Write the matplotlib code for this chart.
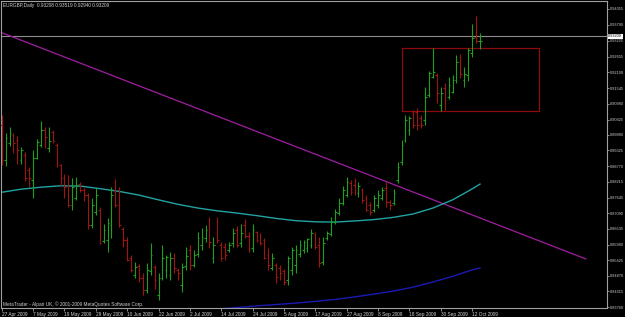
import numpy as np
import pandas as pd
import matplotlib
matplotlib.use('Agg')
import matplotlib.pyplot as plt

plt.rcParams['font.family'] = ['Liberation Sans', 'DejaVu Sans']

# EURGBP daily bars, 27 Apr 2009 .. 14 Oct 2009
dates = pd.bdate_range('2009-04-27', periods=123)

opens = [
    .9023, .8899, .8959, .8988, .8970, .8899, .8917, .8863, .8828, .8906,
    .8952, .9005, .8941, .8998, .8952, .8881, .8835, .8810, .8739, .8764,
    .8813, .8792, .8774, .8668, .8714, .8721, .8611, .8614, .8668, .8792,
    .8739, .8653, .8614, .8550, .8490, .8522, .8479, .8437, .8504, .8518,
    .8419, .8479, .8508, .8490, .8550, .8508, .8454, .8522, .8579, .8525,
    .8565, .8597, .8622, .8668, .8550, .8678, .8597, .8589, .8579, .8604,
    .8650, .8604, .8668, .8629, .8586, .8643, .8629, .8614, .8561, .8515,
    .8525, .8515, .8504, .8472, .8508, .8525, .8565, .8579, .8586, .8597,
    .8636, .8597, .8536, .8622, .8636, .8678, .8710, .8746, .8774, .8817,
    .8810, .8781, .8792, .8764, .8739, .8721, .8739, .8764, .8799, .8749,
    .8746, .8828, .8892, .8970, .9005, .9069, .9069, .9048, .9041, .9130,
    .9194, .9201, .9094, .9155, .9123, .9141, .9183, .9247, .9183, .9201,
    .9279, .9335, .93208,
]
highs = [
    .9059, .8995, .9016, .8995, .8984, .8945, .8927, .8874, .8934, .8973,
    .9037, .9016, .9016, .9005, .8959, .8885, .8849, .8845, .8835, .8838,
    .8821, .8799, .8781, .8764, .8799, .8732, .8671, .8693, .8803, .8831,
    .8803, .8661, .8625, .8561, .8536, .8529, .8497, .8533, .8604, .8525,
    .8497, .8597, .8561, .8572, .8568, .8515, .8533, .8589, .8597, .8579,
    .8643, .8657, .8668, .8696, .8625, .8696, .8607, .8604, .8607, .8657,
    .8664, .8671, .8689, .8643, .8671, .8646, .8639, .8622, .8586, .8568,
    .8533, .8525, .8511, .8557, .8589, .8597, .8614, .8614, .8622, .8653,
    .8643, .8625, .8625, .8646, .8696, .8725, .8764, .8806, .8838, .8828,
    .8835, .8821, .8799, .8774, .8749, .8774, .8792, .8803, .8821, .8757,
    .8796, .8892, .8970, .9059, .9055, .9077, .9084, .9059, .9158, .9215,
    .9297, .9208, .9158, .9172, .9194, .9201, .9272, .9276, .9229, .9297,
    .9382, .9411, .93519,
]
lows = [
    .8881, .8877, .8948, .8924, .8885, .8885, .8824, .8803, .8764, .8902,
    .8945, .8941, .8927, .8959, .8874, .8806, .8764, .8732, .8721, .8757,
    .8785, .8753, .8653, .8657, .8703, .8600, .8604, .8572, .8622, .8732,
    .8661, .8589, .8540, .8501, .8479, .8465, .8419, .8426, .8490, .8440,
    .8401, .8472, .8479, .8472, .8497, .8472, .8430, .8508, .8508, .8518,
    .8554, .8579, .8607, .8586, .8533, .8604, .8540, .8543, .8572, .8589,
    .8589, .8589, .8622, .8572, .8572, .8607, .8597, .8547, .8508, .8508,
    .8461, .8472, .8454, .8454, .8490, .8497, .8554, .8568, .8572, .8586,
    .8582, .8518, .8525, .8614, .8629, .8671, .8703, .8739, .8767, .8774,
    .8774, .8767, .8746, .8717, .8703, .8714, .8728, .8757, .8732, .8721,
    .8739, .8817, .8881, .8963, .8988, .9013, .9005, .9013, .9023, .9123,
    .9190, .9101, .9073, .9077, .9116, .9137, .9172, .9190, .9158, .9180,
    .9265, .9315, .92940,
]
closes = [
    .8899, .8977, .8995, .8959, .8934, .8934, .8835, .8835, .8906, .8963,
    .9005, .8981, .8966, .8966, .8888, .8835, .8803, .8739, .8803, .8810,
    .8792, .8774, .8668, .8739, .8774, .8604, .8650, .8675, .8774, .8739,
    .8668, .8614, .8543, .8508, .8518, .8479, .8437, .8508, .8561, .8472,
    .8479, .8550, .8554, .8550, .8515, .8497, .8518, .8557, .8525, .8561,
    .8622, .8625, .8650, .8607, .8597, .8614, .8550, .8561, .8597, .8639,
    .8597, .8639, .8629, .8582, .8650, .8614, .8604, .8550, .8525, .8550,
    .8483, .8497, .8465, .8550, .8579, .8579, .8597, .8607, .8618, .8639,
    .8589, .8533, .8604, .8639, .8678, .8714, .8746, .8792, .8821, .8785,
    .8792, .8806, .8757, .8721, .8714, .8764, .8774, .8792, .8749, .8739,
    .8781, .8874, .8952, .9041, .9048, .9023, .9023, .9023, .9123, .9208,
    .9212, .9137, .9137, .9112, .9165, .9183, .9247, .9204, .9204, .9290,
    .9333, .9322, .93209,
]

# moving averages, read every 5 bars
ma_fast_idx = [0, 5, 10, 15, 20, 25, 30, 35, 40, 45, 50, 55, 60, 65, 70, 75,
               80, 85, 90, 95, 100, 105, 110, 115, 120, 122]
ma_fast = [.8784, .8795, .8802, .8807, .8806, .8797, .8787, .8774, .8757, .8741,
           .8728, .8718, .8710, .8701, .8691, .8683, .8679, .8678, .8682, .8687,
           .8695, .8707, .8728, .8757, .8796, .8813]
ma_slow_idx = [55, 60, 65, 70, 75, 80, 85, 90, 95, 100, 105, 110, 115, 120, 122]
ma_slow = [.8369, .8374, .8380, .8385, .8390, .8396, .8403, .8412, .8422, .8433,
           .8447, .8465, .8485, .8508, .8515]

# drawn objects
trend_idx = [-0.5, 149]
trend_px = [.9354, .8547]
rect_idx = [102, 137]
rect_px = [.9074, .9296]
bid_level = .9339

ytick_vals = [.94355, .93790, .93225, .92655, .92100, .91545, .90980, .90425,
              .89880, .89325, .88770, .88215, .87645, .87090, .86535, .85980,
              .85425, .84870, .84315, .83760]

title = 'EURGBP,Daily  0.93208 0.93519 0.92940 0.93209'
copyright_txt = 'MetaTrader - Alpari UK, \u00a9 2001-2009 MetaQuotes Software Corp.'

UP = '#1ea01e'
DOWN = '#a01414'
FRAME = '#a0a0a0'
TXT = '#d0d0d0'
FS = 3.4
FS_Y = 2.8

fig = plt.figure(figsize=(6.25, 3.17), dpi=100, facecolor='black')
ax = fig.add_axes([1 / 625, 9 / 317, 606 / 625, 307 / 317])
ax.set_facecolor('black')

idx = np.arange(len(opens))
o = np.array(opens)
c = np.array(closes)
cols = [UP if cc >= oo else DOWN for oo, cc in zip(o, c)]

ax.axhline(bid_level, color='#8c8c8c', lw=0.8, zorder=1)
ax.plot(trend_idx, trend_px, color='#a01ea0', lw=0.9, zorder=2)
ax.plot(ma_fast_idx, ma_fast, color='#22a3a3', lw=1.0, zorder=2)
ax.plot(ma_slow_idx, ma_slow, color='#1a1ab4', lw=1.0, zorder=2)
ax.add_patch(plt.Rectangle((rect_idx[0], rect_px[0]), rect_idx[1] - rect_idx[0],
                           rect_px[1] - rect_px[0], fill=False,
                           edgecolor='#8c0a0a', lw=0.9, zorder=2))

ax.vlines(idx, lows, highs, colors=cols, lw=0.8, zorder=3)
ax.hlines(o, idx - 0.45, idx, colors=cols, lw=0.8, zorder=3)
ax.hlines(c, idx, idx + 0.45, colors=cols, lw=0.8, zorder=3)

ax.set_xlim(-0.18, 154.4)
ax.set_ylim(0.83726, 0.94639)

for s in ax.spines.values():
    s.set_color(FRAME)
    s.set_linewidth(0.8)

ax.yaxis.tick_right()
ax.set_yticks(ytick_vals)
ax.set_yticklabels([f'{v:.5f}' for v in ytick_vals])
xt = idx[::8]
ax.set_xticks(xt)
ax.set_xticklabels([f'{d.day} {d:%b %Y}' for d in dates[xt]])
for lbl in ax.get_xticklabels():
    lbl.set_horizontalalignment('left')
ax.tick_params(colors=FRAME, labelcolor=TXT, labelsize=FS, length=2, width=0.6, pad=1)
ax.tick_params(axis='y', labelsize=FS_Y, length=1.5, pad=0.6)

ax.text(1.002, bid_level, f'{closes[-1]:.5f}', transform=ax.get_yaxis_transform(),
        fontsize=FS_Y, color='black', va='center', ha='left', clip_on=False,
        bbox=dict(facecolor='white', edgecolor='none', pad=0.3), zorder=5)

fig.text(3 / 625, 1 - 6 / 317, title, fontsize=FS, color=TXT, va='center', ha='left')
ax.text(2 / 606, 4 / 307, copyright_txt, transform=ax.transAxes, fontsize=FS,
        color=TXT, va='center', ha='left')

fig.savefig('out.png', dpi=100, facecolor='black')
